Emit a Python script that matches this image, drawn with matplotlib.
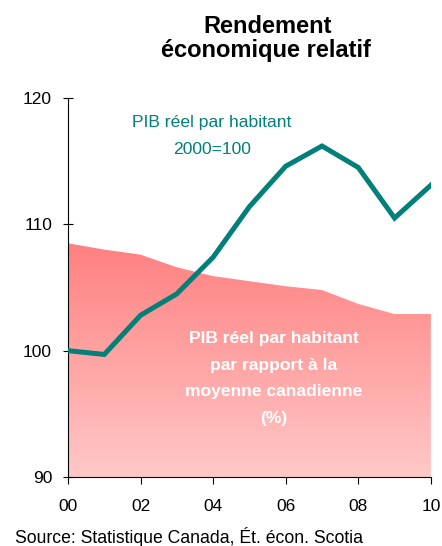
import numpy as np
import matplotlib
matplotlib.use("Agg")
import matplotlib.pyplot as plt
from matplotlib.colors import LinearSegmentedColormap

plt.rcParams['font.family'] = ['Liberation Sans', 'DejaVu Sans']

# data
years = [2000, 2001, 2002, 2003, 2004, 2005, 2006, 2007, 2008, 2009, 2010]
gdp_index = [100.0, 99.7, 102.8, 104.5, 107.4, 111.4, 114.6, 116.2, 114.5, 110.5, 113.1]
gdp_vs_canada = [108.5, 108.0, 107.6, 106.6, 105.9, 105.5, 105.1, 104.8, 103.7, 102.9, 102.9]
xtick_vals = [2000, 2002, 2004, 2006, 2008, 2010]
xtick_labels = ['00', '02', '04', '06', '08', '10']
ytick_vals = [90, 100, 110, 120]
teal_lines = ['PIB réel par habitant', '2000=100']
white_lines = ['PIB réel par habitant', 'par rapport à la', 'moyenne canadienne', '(%)']

teal = '#008078'

fig = plt.figure(figsize=(4.42, 5.46), dpi=100)
ax = fig.add_axes([0.1538, 0.1264, 0.821, 0.6941])

# gradient filled area
poly = ax.fill_between(years, 90, gdp_vs_canada, color='none', lw=0)
cmap = LinearSegmentedColormap.from_list('pinks', ['#FFC8C8', '#FF8080'])
grad = np.linspace(0, 1, 256).reshape(-1, 1)
img = ax.imshow(grad, cmap=cmap, aspect='auto', origin='lower',
                extent=[years[0], years[-1], 90, max(gdp_vs_canada)], zorder=1)
img.set_clip_path(poly.get_paths()[0], transform=ax.transData)

ax.plot(years, gdp_index, color=teal, lw=3.6, zorder=3, solid_joinstyle='miter')

ax.set_xlim(2000, 2010)
ax.set_ylim(90, 120)
ax.set_xticks(xtick_vals)
ax.set_xticklabels(xtick_labels)
ax.set_yticks(ytick_vals)
for s in ['top', 'right']:
    ax.spines[s].set_visible(False)
for s in ['left', 'bottom']:
    ax.spines[s].set_linewidth(0.8)
ax.tick_params(axis='x', direction='out', length=5, labelsize=12.5, pad=11)
ax.tick_params(axis='y', direction='inout', length=7, labelsize=12.5, pad=8)

# labels inside the plot, one line at a time
for txt, yb in zip(teal_lines, [117.70, 115.57]):
    ax.text(2003.97, yb, txt, color=teal, fontsize=12.6, ha='center',
            va='baseline', zorder=4)
for txt, yb in zip(white_lines, [100.63, 98.50, 96.44, 94.30]):
    ax.text(2005.67, yb, txt, color='white', fontsize=12.6, fontweight='bold',
            ha='center', va='baseline', zorder=4)

fig.text(0.605, 1 - 33 / 546, 'Rendement', fontsize=17, fontweight='bold',
         ha='center', va='baseline')
fig.text(0.602, 1 - 57 / 546, 'économique relatif', fontsize=17, fontweight='bold',
         ha='center', va='baseline')
fig.text(0.034, 1 - 543 / 546, 'Source: Statistique Canada, Ét. écon. Scotia',
         fontsize=12.7, ha='left', va='baseline')

fig.savefig('out.png', dpi=100)
